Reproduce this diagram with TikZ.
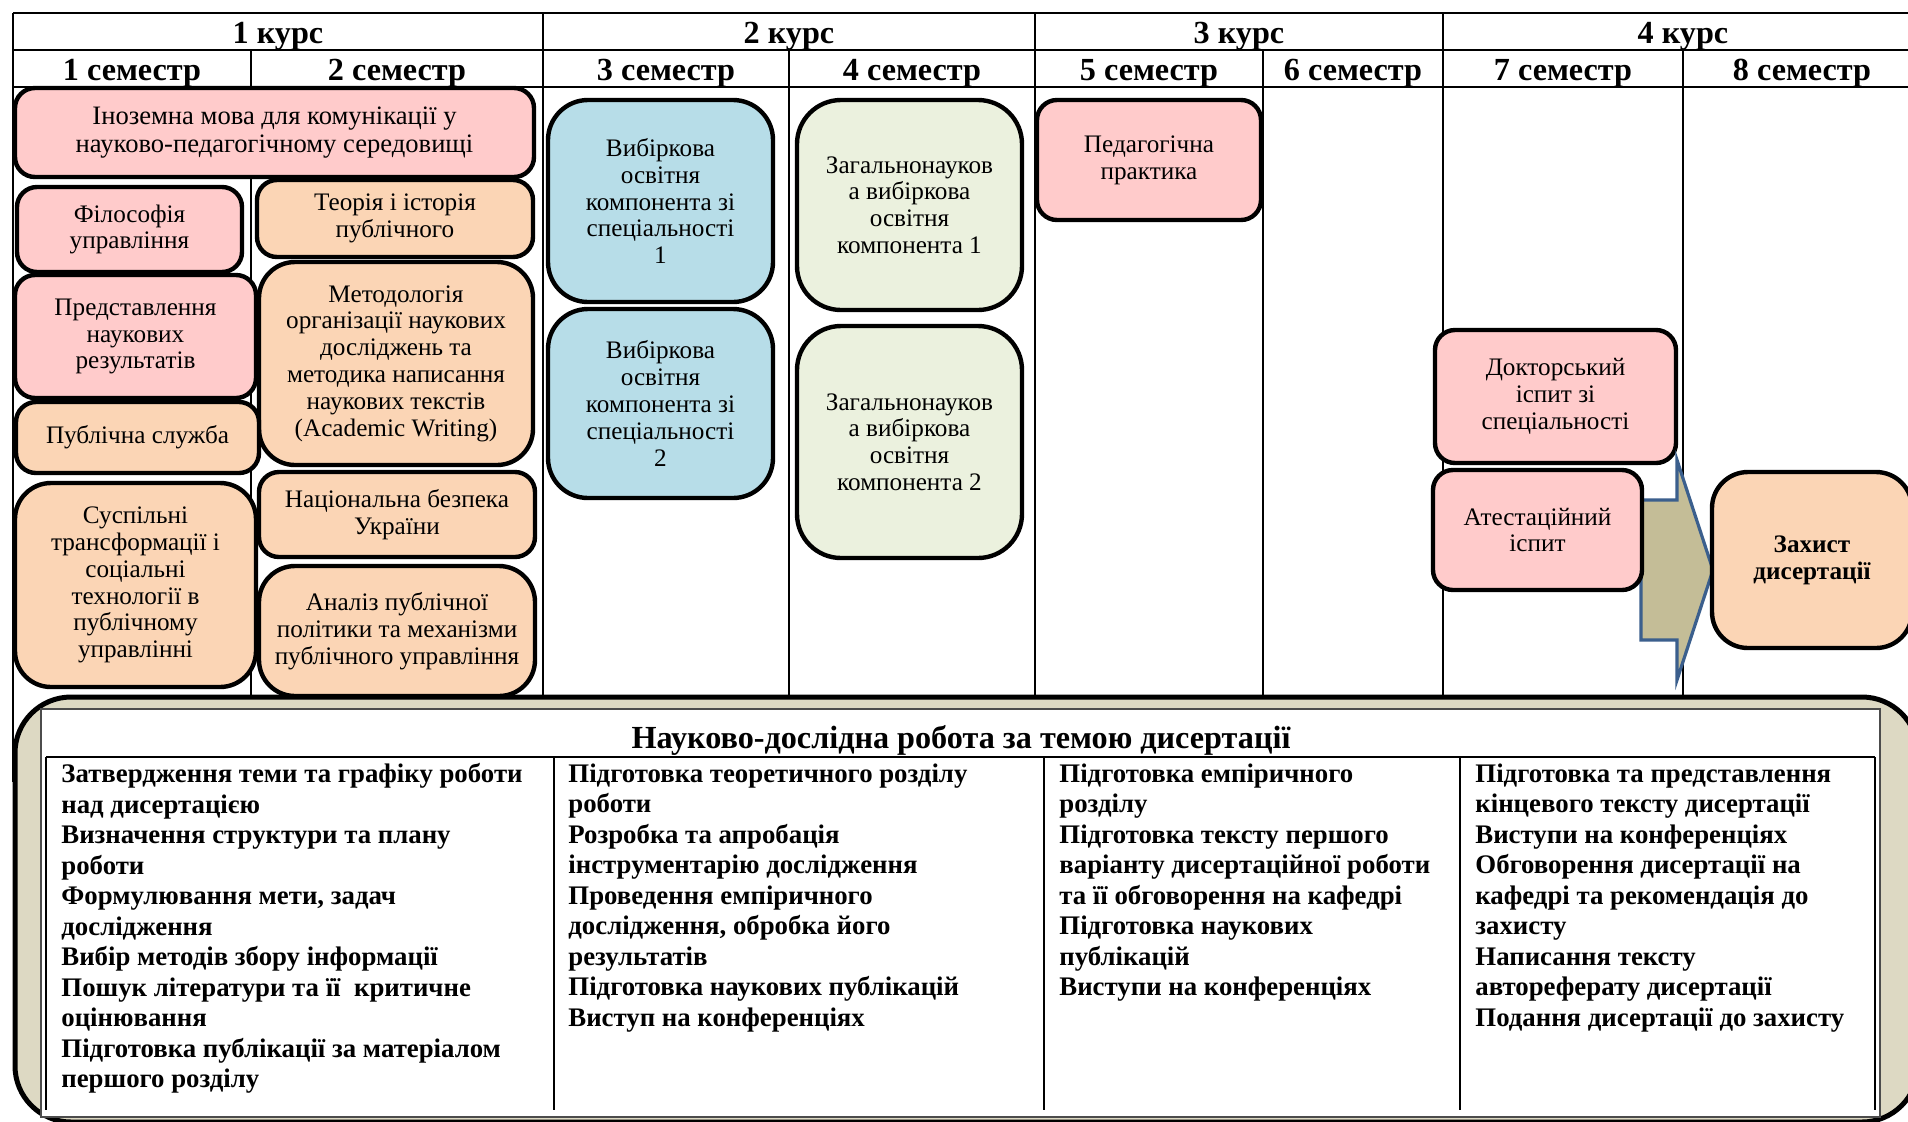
\documentclass[tikz,border=0pt]{standalone}
\usepackage{fontspec}
\setmainfont{Liberation Serif}
\usetikzlibrary{calc}
\definecolor{pinkc}{HTML}{FFCBCB}
\definecolor{peachc}{HTML}{FBD5B5}
\definecolor{bluec}{HTML}{B7DDE8}
\definecolor{greenc}{HTML}{EBF1DE}
\definecolor{arrowfill}{HTML}{C4BD97}
\definecolor{arrowline}{HTML}{3B5F8D}
\definecolor{tanc}{HTML}{DDD9C3}
\newcommand{\mkbox}[7]{\node[#2, minimum width={(#5-#3)*0.5pt}, minimum height={(#6-#4)*0.5pt}] (#1) at ({(#3+#5)/2},{(#4+#6)/2}) {#7};}
\begin{document}
\begin{tikzpicture}[x=0.5pt,y=-0.5pt,
  gridline/.style={line width=1.1pt},
  course/.style={font=\fontsize{16.1}{18}\selectfont\bfseries, inner sep=0pt},
  box/.style={draw, line width=2.2pt, rounded corners=10pt, align=center, inner sep=0pt, font=\fontsize{12.6}{13.4}\selectfont},
  pinkbox/.style={box, fill=pinkc},
  widepink/.style={box, fill=pinkc, font=\fontsize{13.3}{14.1}\selectfont},
  peachbox/.style={box, fill=peachc},
  bluebox/.style={box, fill=bluec, rounded corners=20pt},
  greenbox/.style={box, fill=greenc, rounded corners=22pt},
  bigpeach/.style={box, fill=peachc, rounded corners=18pt},
  blockarrow/.style={fill=arrowfill, draw=arrowline, line width=1.6pt, line join=miter},
  worktext/.style={font=\fontsize{13.4}{15.25}\selectfont\bfseries, align=left, inner sep=0pt, anchor=north west},
  worktitle/.style={font=\fontsize{16.1}{18}\selectfont\bfseries, inner sep=0pt}
]
\useasboundingbox (0,0) rectangle (1908,1121);
\fill[white] (0,0) rectangle (1908,1121);
\clip (0,0) rectangle (1908,1121);

% table grid
\draw[gridline] (13,13) -- (1930,13);
\draw[gridline] (13,50) -- (1930,50);
\draw[gridline] (13,87) -- (1930,87);
\draw[gridline] (13,13) -- (13,782);
\draw[gridline] (543,13) -- (543,697);
\draw[gridline] (1035,13) -- (1035,697);
\draw[gridline] (1443,13) -- (1443,697);
\draw[gridline] (1922,13) -- (1922,697);
\draw[gridline] (251,50) -- (251,697);
\draw[gridline] (789,50) -- (789,697);
\draw[gridline] (1263,50) -- (1263,697);
\draw[gridline] (1683,50) -- (1683,697);

% headers
\node[course] (c1) at (278,36) {1 курс};
\node[course] (c2) at (789,36) {2 курс};
\node[course] (c3) at (1239,36) {3 курс};
\node[course] (c4) at (1683,36) {4 курс};
\node[course] (s1) at (132,73) {1 семестр};
\node[course] (s2) at (397,73) {2 семестр};
\node[course] (s3) at (666,73) {3 семестр};
\node[course] (s4) at (912,73) {4 семестр};
\node[course] (s5) at (1149,73) {5 семестр};
\node[course] (s6) at (1353,73) {6 семестр};
\node[course] (s7) at (1563,73) {7 семестр};
\node[course] (s8) at (1802,73) {8 семестр};

% course boxes
\mkbox{ino}{widepink}{15}{88}{534}{177}{Іноземна мова для комунікації у\\науково-педагогічному середовищі}
\mkbox{fil}{pinkbox}{17}{187}{242}{272}{Філософія\\управління}
\mkbox{teo}{peachbox}{257}{180}{533}{257}{Теорія і історія\\публічного}
\mkbox{pre}{pinkbox}{15}{275}{256}{398}{Представлення\\наукових\\результатів}
\mkbox{met}{bigpeach}{259}{262}{533}{465}{Методологія\\організації наукових\\досліджень та\\методика написання\\наукових текстів\\(Academic Writing)}
\mkbox{pub}{peachbox}{16}{402}{259}{473}{Публічна служба}
\mkbox{sus}{bigpeach}{15}{483}{256}{687}{Суспільні\\трансформації і\\соціальні\\технології в\\публічному\\управлінні}
\mkbox{nat}{peachbox}{259}{472}{535}{557}{Національна безпека\\України}
\mkbox{ana}{bigpeach}{259}{566}{535}{696}{Аналіз публічної\\політики та механізми\\публічного управління}
\mkbox{vyb1}{bluebox}{548}{100}{773}{302}{Вибіркова\\освітня\\компонента зі\\спеціальності\\1}
\mkbox{vyb2}{bluebox}{548}{309}{773}{498}{Вибіркова\\освітня\\компонента зі\\спеціальності\\2}
\mkbox{zag1}{greenbox}{797}{100}{1022}{310}{Загальнонауков\\а вибіркова\\освітня\\компонента 1}
\mkbox{zag2}{greenbox}{797}{326}{1022}{558}{Загальнонауков\\а вибіркова\\освітня\\компонента 2}
\mkbox{ped}{pinkbox}{1037}{100}{1261}{220}{Педагогічна\\практика}
\mkbox{dok}{pinkbox}{1435}{330}{1676}{463}{Докторський\\іспит зі\\спеціальності}

% block arrow to the defence
\coordinate (tip) at (1713,570);
\draw[blockarrow] (1641,500) -- (1677,500) -- (1677,460) -- (tip) -- (1677,680) -- (1677,640) -- (1641,640) -- cycle;

\mkbox{att}{pinkbox}{1433}{470}{1642}{590}{Атестаційний\\іспит}
\mkbox{zah}{bigpeach}{1712}{472}{1912}{648}{\bfseries Захист\\\bfseries дисертації}

% research work block
\draw[fill=tanc, line width=2.5pt, rounded corners=28pt] (15,697) rectangle (1918,1122);
\draw[fill=white, draw=black!70, line width=1.2pt] (41,709) rectangle (1880,1117);
\node[worktitle] (wt) at (961,740) {Науково-дослідна робота за темою дисертації};
\draw[gridline] (46,757) -- (1875,757);
\draw[gridline] (46,757) -- (46,1110);
\draw[gridline] (554,757) -- (554,1110);
\draw[gridline] (1044,757) -- (1044,1110);
\draw[gridline] (1460,757) -- (1460,1110);
\draw[gridline] (1875,757) -- (1875,1110);

\node[worktext] (w1) at (61,763) {Затвердження теми та графіку роботи\\над дисертацією\\Визначення структури та плану\\роботи\\Формулювання мети, задач\\дослідження\\Вибір методів збору інформації\\Пошук літератури та її~ критичне\\оцінювання\\Підготовка публікації за матеріалом\\першого розділу};
\node[worktext] (w2) at (568,763) {Підготовка теоретичного розділу\\роботи\\Розробка та апробація\\інструментарію дослідження\\Проведення емпіричного\\дослідження, обробка його\\результатів\\Підготовка наукових публікацій\\Виступ на конференціях};
\node[worktext] (w3) at (1059,763) {Підготовка емпіричного\\розділу\\Підготовка тексту першого\\варіанту дисертаційної роботи\\та її обговорення на кафедрі\\Підготовка наукових\\публікацій\\Виступи на конференціях};
\node[worktext] (w4) at (1475,763) {Підготовка та представлення\\кінцевого тексту дисертації\\Виступи на конференціях\\Обговорення дисертації на\\кафедрі та рекомендація до\\захисту\\Написання тексту\\автореферату дисертації\\Подання дисертації до захисту};
\end{tikzpicture}
\end{document}
